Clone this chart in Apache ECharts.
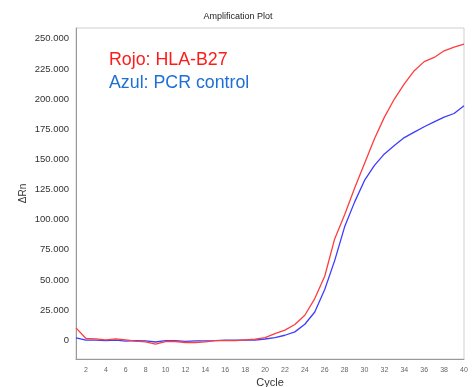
<!DOCTYPE html>
<html>
<head>
<meta charset="utf-8">
<script src="https://cdn.jsdelivr.net/npm/echarts@6/dist/echarts.min.js"></script>
<style>
html,body{margin:0;padding:0;background:#fff;}
#c{width:476px;height:387px;}
</style>
</head>
<body>
<div id="c"></div>
<script>
const cycles = [1,2,3,4,5,6,7,8,9,10,11,12,13,14,15,16,17,18,19,20,21,22,23,24,25,26,27,28,29,30,31,32,33,34,35,36,37,38,39,40];
const hlaB27 = [10200,1400,1100,300,1100,300,-800,-1400,-3300,-1100,-1100,-1900,-1900,-1400,-300,-300,-300,300,800,2200,5500,8300,13000,20700,34500,53000,84000,104000,126000,146500,167000,185000,200000,212500,223500,231000,234500,240000,243000,245500];
const pcrControl = [1900,0,0,-300,0,-800,-300,-500,-1500,-300,-300,-1000,-500,-500,-300,0,0,0,0,1000,2200,4100,6900,13200,23400,42000,66000,94000,114500,132500,145000,154500,161500,168000,172500,177000,181000,185000,188000,194500];
const xTicks = [2,4,6,8,10,12,14,16,18,20,22,24,26,28,30,32,34,36,38,40];
const yTicks = [0,25000,50000,75000,100000,125000,150000,175000,200000,225000,250000];

const fmt = v => v === 0 ? '0' : String(v).replace(/\B(?=(\d{3})+(?!\d))/g, '.');

const chart = echarts.init(document.getElementById('c'));
chart.setOption({
  animation: false,
  backgroundColor: '#fff',
  textStyle: {fontFamily: 'Liberation Sans, Arial, sans-serif'},
  grid: {left: 76, right: 12, top: 28, bottom: 28, show: true, borderColor: '#cfcfcf', borderWidth: 1, outerBoundsMode: 'none', containLabel: false},
  graphic: [
    {type: 'text', left: 'center', top: 12, style: {text: 'Amplification Plot', fontSize: 9, fill: '#222', fontFamily: 'Liberation Sans, Arial, sans-serif'}},
    {type: 'text', left: 109, top: 51, style: {text: 'Rojo: HLA-B27', fontSize: 17.8, fill: '#ff1a1a', fontFamily: 'Liberation Sans, Arial, sans-serif'}},
    {type: 'text', left: 109, top: 74, style: {text: 'Azul: PCR control', fontSize: 17.8, fill: '#1f6fd6', fontFamily: 'Liberation Sans, Arial, sans-serif'}}
  ],
  xAxis: {
    type: 'value', min: 1, max: 40,
    name: 'Cycle', nameLocation: 'middle', nameGap: 18, nameMoveOverlap: false,
    nameTextStyle: {fontSize: 11, color: '#333'},
    axisLine: {show: true, onZero: false, lineStyle: {color: '#999', width: 1}},
    axisTick: {show: false},
    splitLine: {show: false},
    axisLabel: {customValues: xTicks, fontSize: 7, color: '#666', margin: 8}
  },
  yAxis: {
    type: 'value', min: -15600, max: 258900,
    name: 'ΔRn', nameLocation: 'middle', nameGap: 48, nameMoveOverlap: false,
    nameTextStyle: {fontSize: 10, color: '#333'},
    axisLine: {show: true, onZero: false, lineStyle: {color: '#999', width: 1}},
    axisTick: {show: false},
    splitLine: {show: false},
    axisLabel: {customValues: yTicks, fontSize: 9.5, color: '#333', margin: 7, formatter: fmt}
  },
  series: [
    {type: 'line', name: 'PCR control', data: cycles.map((c, i) => [c, pcrControl[i]]), showSymbol: false, lineStyle: {color: '#3d3dff', width: 1.3}, itemStyle: {color: '#3d3dff'}},
    {type: 'line', name: 'HLA-B27', data: cycles.map((c, i) => [c, hlaB27[i]]), showSymbol: false, lineStyle: {color: '#ff3d3d', width: 1.3}, itemStyle: {color: '#ff3d3d'}}
  ]
});
</script>
</body>
</html>
